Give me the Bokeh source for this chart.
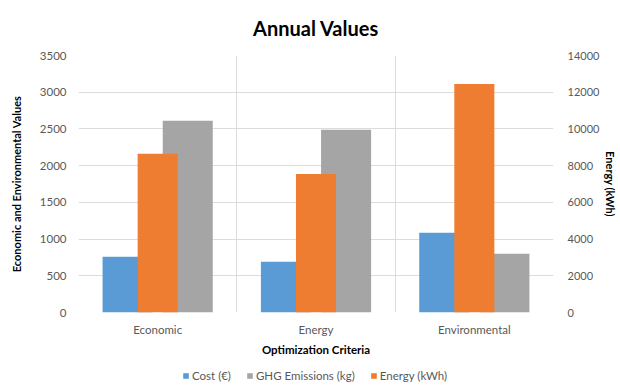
from bokeh.plotting import figure
from bokeh.layouts import column
from bokeh.models import (Range1d, LinearAxis, FixedTicker, Legend, LegendItem,
                          ColumnDataSource, Title)
from bokeh.embed import file_html
from bokeh.resources import INLINE

# ---- data ----
categories = ["Economic", "Energy", "Environmental"]
cost = [760, 690, 1085]
ghg = [2610, 2490, 800]
energy = [8650, 7550, 12450]
left_ticks = [0, 500, 1000, 1500, 2000, 2500, 3000, 3500]
right_ticks = [0, 2000, 4000, 6000, 8000, 10000, 12000, 14000]
series_labels = ["Cost (€)", "GHG Emissions (kg)", "Energy (kWh)"]

FONT = "Lato"
COLORS = ["#5b9bd5", "#a5a5a5", "#ee7d31"]
xpos = [i + 0.5 for i in range(len(categories))]

src = ColumnDataSource(dict(
    xc=[x - 0.19 for x in xpos],
    xg=[x + 0.19 for x in xpos],
    xe=xpos,
    cost=cost, ghg=ghg, energy=energy,
))

p = figure(width=620, height=358, output_backend="svg", toolbar_location=None,
           x_range=Range1d(0, len(categories)), y_range=Range1d(0, 3500),
           min_border_left=78, min_border_right=67, min_border_top=55,
           min_border_bottom=45)
p.extra_y_ranges = {"energy": Range1d(0, 14000)}

# title
p.title.text = "Annual Values"
p.title.align = "center"
p.title.text_font = FONT
p.title.text_font_size = "20px"
p.title.text_font_style = "bold"
p.title.text_color = "#000000"
p.add_layout(Title(text=" ", text_font_size="8px", standoff=0), "above")

p.outline_line_color = None
p.background_fill_color = "white"
p.border_fill_color = "white"

p.vbar(x="xc", top="cost", width=0.316, source=src, color=COLORS[0], line_color=None)
p.vbar(x="xg", top="ghg", width=0.316, source=src, color=COLORS[1], line_color=None)
p.vbar(x="xe", top="energy", width=0.253, source=src, color=COLORS[2],
       line_color=None, y_range_name="energy")

# grids
p.xgrid.ticker = FixedTicker(ticks=list(range(len(categories) + 1)))
p.xgrid.grid_line_color = "#dcdcdc"
p.ygrid.ticker = FixedTicker(ticks=left_ticks)
p.ygrid.grid_line_color = "#dcdcdc"


def style_axis(ax, standoff, size="11.5px"):
    ax.axis_line_color = None
    ax.major_tick_line_color = None
    ax.minor_tick_line_color = None
    ax.major_tick_out = 0
    ax.major_tick_in = 0
    ax.minor_tick_out = 0
    ax.major_label_standoff = standoff
    ax.major_label_text_font = FONT
    ax.major_label_text_font_size = size
    ax.major_label_text_color = "#595959"
    ax.axis_label_text_font = FONT
    ax.axis_label_text_font_style = "bold"
    ax.axis_label_text_color = "#000000"


# x axis
xa = p.xaxis[0]
xa.ticker = FixedTicker(ticks=xpos)
xa.major_label_overrides = {x: c for x, c in zip(xpos, categories)}
style_axis(xa, 10)
xa.axis_label = "Optimization Criteria"
xa.axis_label_text_font_size = "11.5px"
xa.axis_label_standoff = 4

# left axis
ya = p.yaxis[0]
ya.ticker = FixedTicker(ticks=left_ticks)
style_axis(ya, 12)
ya.axis_label = "Economic and Environmental Values"
ya.axis_label_text_font_size = "11px"
ya.axis_label_standoff = 14

# right axis
ra = LinearAxis(y_range_name="energy", ticker=FixedTicker(ticks=right_ticks))
style_axis(ra, 14, "11px")
ra.axis_label = "Energy (kWh)"
ra.axis_label_text_font_size = "11px"
ra.axis_label_standoff = 2
p.add_layout(ra, "right")

# legend strip below the chart (proxy glyphs sit outside the visible range)
lf = figure(width=620, height=31, output_backend="svg", toolbar_location=None,
            x_range=Range1d(0, 1), y_range=Range1d(0, 1),
            min_border=0, outline_line_color=None)
lf.axis.visible = False
lf.grid.visible = False
lf.border_fill_color = "white"
items = []
for lab, col in zip(series_labels, COLORS):
    r = lf.vbar(x=[-5], top=[-5], bottom=[-6], width=0.1, color=col, line_color=None)
    items.append(LegendItem(label=lab, renderers=[r]))
legend = Legend(items=items, orientation="horizontal", location=(104, 7))
legend.label_text_font = FONT
legend.label_text_font_size = "11.5px"
legend.label_text_color = "#595959"
legend.glyph_width = 7
legend.glyph_height = 7
legend.label_standoff = 3
legend.spacing = 15
legend.padding = 2
legend.margin = 0
legend.border_line_color = None
legend.background_fill_alpha = 0
lf.add_layout(legend)

layout = column(p, lf, spacing=0)
open("out.html", "w").write(file_html(layout, INLINE))
